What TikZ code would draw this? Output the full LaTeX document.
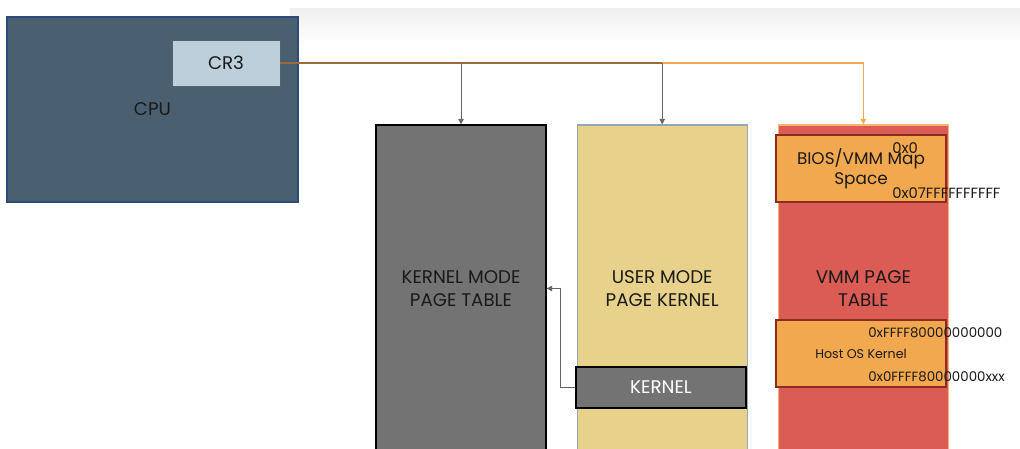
\documentclass[tikz,border=0pt]{standalone}
\usepackage{fontspec}
\setmainfont{Poppins}
\usetikzlibrary{positioning,arrows.meta}

\definecolor{cpufill}{HTML}{4A6070}
\definecolor{cpuline}{HTML}{2C4A7A}
\definecolor{regfill}{HTML}{BCCFDA}
\definecolor{regline}{HTML}{55646C}
\definecolor{kgray}{HTML}{737373}
\definecolor{userfill}{HTML}{E8D28B}
\definecolor{userline}{HTML}{93A7B4}
\definecolor{vmmfill}{HTML}{DA5C55}
\definecolor{vmmline}{HTML}{F6B56B}
\definecolor{rangefill}{HTML}{F2A84F}
\definecolor{rangeline}{HTML}{8C2B22}
\definecolor{feedbrown}{HTML}{9C6A3E}
\definecolor{feedorange}{HTML}{F4A850}
\definecolor{txt}{HTML}{1A1A1A}

\begin{document}
\begin{tikzpicture}[
                    x=0.025cm, y=-0.025cm,
                    node distance=0.75cm,
                    pagetable/.style={draw, rectangle, line width=0.8pt, inner sep=0pt, minimum width=4.25cm, minimum height=8.175cm, align=center, text=txt, font=\fontsize{13}{16.5}\selectfont},
                    rangebox/.style={draw=rangeline, fill=rangefill, rectangle, line width=0.8pt, minimum width=4.25cm, minimum height=1.675cm, align=center, text=txt, inner sep=0pt},
                    addr/.style={anchor=west, inner sep=0pt, text=txt, font=\fontsize{10.5}{13}\selectfont},
                    feed/.style={draw=feedbrown, line width=0.8pt},
                    arrow/.style={-{Triangle[length=4pt,width=4pt]}, line width=0.6pt, draw=black!60}
                ]
                \useasboundingbox (0,0) rectangle (1020,448);
                \shade[top color=black!6, bottom color=white] (290,8) rectangle (1020,44);

                % CPU
                \node[draw=cpuline, fill=cpufill, line width=0.8pt, minimum width=7.275cm, minimum height=4.625cm, text=txt, font=\fontsize{13}{15}\selectfont] (cpu) at (152.5,109.5) {CPU};
                \node[draw=regline, fill=regfill, line width=0.6pt, minimum width=2.7cm, minimum height=1.15cm, text=txt, font=\fontsize{13}{15}\selectfont] (cr3) at (226,63) {CR3};

                % Page tables
                \node[pagetable, fill=kgray, draw=black] (kmt) at (461,288.5) {KERNEL MODE\\PAGE TABLE};
                \node[pagetable, fill=userfill, draw=userline, right=of kmt] (umt) {USER MODE\\PAGE KERNEL};
                \node[pagetable, fill=vmmfill, draw=vmmline, right=of umt] (vmm) {VMM PAGE\\TABLE};

                % Regions
                \node[draw=black, fill=kgray, line width=0.8pt, minimum width=4.25cm, minimum height=1.025cm, inner sep=0pt, text=white, font=\fontsize{13}{15}\selectfont] (kern) at (661,387.5) {KERNEL};
                \node[rangebox, font=\fontsize{12}{14}\selectfont] (bios) at (861,168.5) {BIOS/VMM Map\\Space};
                \node[rangebox, font=\fontsize{9}{11}\selectfont] (host) at (861,353.5) {Host OS Kernel};
                \node[addr] (bios_lo) at (892,148) {0x0};
                \node[addr] (bios_hi) at (892,193) {0x07FFFFFFFFFF};
                \node[addr, font=\fontsize{9.5}{12}\selectfont] (host_hi) at (868,333) {0xFFFF80000000000};
                \node[addr, font=\fontsize{9.5}{12}\selectfont] (host_lo) at (868,377) {0x0FFFF80000000xxx};

                % Connections
                \draw[feed] (cr3.east) -- (cr3.east -| umt.north);
                \draw[arrow, draw=feedorange, line width=0.8pt] (cr3.east -| umt.north) -| (vmm.north);
                \draw[arrow] (cr3.east -| kmt.north) -- (kmt.north);
                \draw[arrow] (cr3.east -| umt.north) -- (umt.north);
                \draw[arrow] (kern.west) -- ++(-15,0) |- (kmt.east);
            \end{tikzpicture}
\end{document}
